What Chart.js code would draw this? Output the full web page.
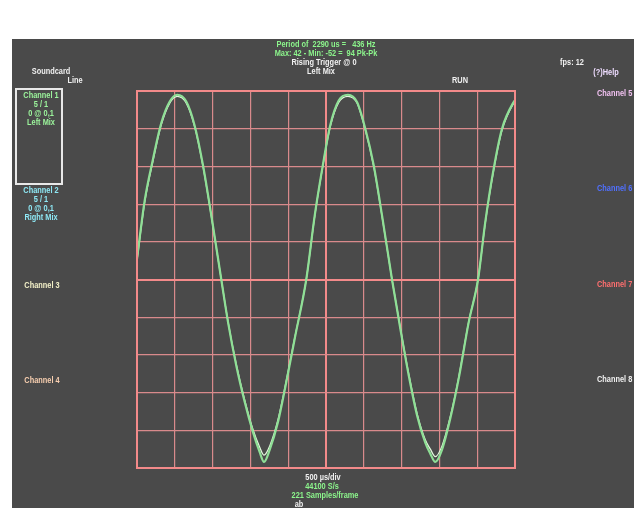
<!DOCTYPE html>
<html>
<head>
<meta charset="utf-8">
<script src="https://cdn.jsdelivr.net/npm/chart.js@4.4.1/dist/chart.umd.min.js"></script>
<style>
  body { margin: 0; background: #fff; width: 634px; height: 510px; overflow: hidden; position: relative; }
  #panel { position: absolute; left: 12px; top: 39px; width: 622px; height: 469px; background: #4a4a4a; }
  #wrap { position: absolute; left: 0; top: 0; width: 634px; height: 510px; }
  .t { position: absolute; font: bold 9px "Liberation Sans", Arial, sans-serif;
       white-space: pre; transform: translate(-50%, -50%) scaleX(0.82); line-height: 9px; }
  .l { transform-origin: 0 50%; transform: translate(0, -50%) scaleX(0.82); }
  #box { position: absolute; left: 15px; top: 88px; width: 44px; height: 93px; border: 2px solid #e8e8e8; }
</style>
</head>
<body>
<div id="panel"></div>
<div id="box"></div>
<div id="wrap"><canvas id="scope" width="634" height="510"></canvas></div>

<!-- header -->
<div class="t" style="left:326px;top:44px;color:#8cf58c">Period of  2290 us =   436 Hz</div>
<div class="t" style="left:326px;top:53px;color:#8cf58c">Max: 42 - Min: -52 =  94 Pk-Pk</div>
<div class="t" style="left:324px;top:62px;color:#f0f0f0">Rising Trigger @ 0</div>
<div class="t" style="left:321px;top:71px;color:#f0f0f0">Left Mix</div>
<div class="t" style="left:460px;top:80px;color:#f0f0f0">RUN</div>
<div class="t" style="left:572px;top:62px;color:#f0f0f0">fps: 12</div>
<div class="t" style="left:606px;top:72px;color:#eedcff">(?)Help</div>
<div class="t" style="left:51px;top:71px;color:#f0f0f0">Soundcard</div>
<div class="t" style="left:75px;top:80px;color:#f0f0f0">Line</div>

<!-- left channels -->
<div class="t" style="left:41px;top:95px;color:#9cf59c">Channel 1</div>
<div class="t" style="left:41px;top:104px;color:#9cf59c">5 / 1</div>
<div class="t" style="left:41px;top:113px;color:#9cf59c">0 @ 0,1</div>
<div class="t" style="left:41px;top:122px;color:#9cf59c">Left Mix</div>
<div class="t" style="left:41px;top:190px;color:#8ee8f5">Channel 2</div>
<div class="t" style="left:41px;top:199px;color:#8ee8f5">5 / 1</div>
<div class="t" style="left:41px;top:208px;color:#8ee8f5">0 @ 0,1</div>
<div class="t" style="left:41px;top:217px;color:#8ee8f5">Right Mix</div>
<div class="t" style="left:42px;top:285px;color:#f3f0c8">Channel 3</div>
<div class="t" style="left:42px;top:380px;color:#f8cfb0">Channel 4</div>

<!-- right channels -->
<div class="t l" style="left:597px;top:93px;color:#f0c0f0">Channel 5</div>
<div class="t l" style="left:597px;top:188px;color:#5070ff">Channel 6</div>
<div class="t l" style="left:597px;top:284px;color:#ff6f6f">Channel 7</div>
<div class="t l" style="left:597px;top:379px;color:#f0f0f0">Channel 8</div>

<!-- footer -->
<div class="t" style="left:323px;top:477px;color:#f0f0f0">500 µs/div</div>
<div class="t" style="left:322px;top:486px;color:#8cf58c">44100 S/s</div>
<div class="t" style="left:325px;top:495px;color:#8cf58c">221 Samples/frame</div>
<div class="t" style="left:299px;top:504px;color:#f0f0f0">ab</div>

<script>
// time in microseconds (500 us per division, 10 divisions)
const timeUs = [0, 102, 212, 321, 433, 533, 652, 763, 873, 983, 1115, 1204, 1313, 1425, 1534, 1623, 1680, 1755,
  1865, 1975, 2086, 2239, 2351, 2447, 2557, 2668, 2791, 2910, 3020, 3131, 3241, 3373, 3483, 3594, 3704, 3813,
  3880, 3946, 4034, 4144, 4255, 4388, 4511, 4607, 4718, 4828, 4983, 5000];

// trace values in divisions (5 / 1)
const leftMix = [0.55, 2.1, 3.2, 4.15, 4.72, 4.9, 4.72, 4.08, 3.03, 1.7, 0.0, -1.13, -2.28, -3.25, -4.05, -4.58, -4.84, -4.52,
  -3.78, -2.72, -1.57, 0.0, 1.7, 2.9, 4.1, 4.75, 4.9, 4.71, 4.0, 3.03, 1.7, 0.0, -1.3, -2.54, -3.6, -4.33,
  -4.62, -4.84, -4.52, -3.69, -2.63, -1.13, 0.0, 1.53, 2.94, 4.0, 4.71, 4.75];
const rightMix = [0.5, 2.05, 3.15, 4.1, 4.68, 4.86, 4.68, 4.05, 3.0, 1.68, 0.0, -1.12, -2.25, -3.2, -3.98, -4.45, -4.66, -4.42,
  -3.72, -2.68, -1.55, 0.0, 1.68, 2.88, 4.06, 4.7, 4.86, 4.68, 3.97, 3.0, 1.68, 0.0, -1.28, -2.5, -3.55, -4.25,
  -4.5, -4.7, -4.42, -3.64, -2.6, -1.12, 0.0, 1.5, 2.9, 3.96, 4.68, 4.72];

const gridLine = '#d98a8c';
const gridMain = '#f38a8a';

const points = (vals) => timeUs.map((t, i) => ({ x: t, y: vals[i] }));

new Chart(document.getElementById('scope'), {
  type: 'line',
  data: {
    datasets: [
      { label: 'Left Mix', data: points(leftMix), borderColor: '#8fdf96', borderWidth: 2.2, pointRadius: 0, cubicInterpolationMode: 'monotone' },
      { label: 'Right Mix', data: points(rightMix), borderColor: '#e2f7dc', borderWidth: 1.3, pointRadius: 0, cubicInterpolationMode: 'monotone' }
    ]
  },
  options: {
    responsive: false,
    animation: false,
    layout: { padding: { left: 137, top: 91, right: 119, bottom: 42 } },
    plugins: { legend: { display: false }, tooltip: { enabled: false } },
    scales: {
      x: {
        type: 'linear', min: 0, max: 5000,
        ticks: { display: false, stepSize: 500 },
        grid: {
          drawTicks: false,
          color: (c) => c.tick && (c.tick.value === 2500) ? gridMain : gridLine,
          lineWidth: (c) => c.tick && (c.tick.value === 2500) ? 2 : 1.2
        },
        border: { display: true, color: gridMain, width: 2 }
      },
      y: {
        min: -5, max: 5,
        ticks: { display: false, stepSize: 1 },
        grid: {
          drawTicks: false,
          color: (c) => c.tick && (c.tick.value === 0) ? gridMain : gridLine,
          lineWidth: (c) => c.tick && (c.tick.value === 0) ? 2 : 1.2
        },
        border: { display: true, color: gridMain, width: 2 }
      }
    }
  },
  plugins: [{
    id: 'frame',
    afterDraw(chart) {
      const a = chart.chartArea, ctx = chart.ctx;
      ctx.save();
      ctx.strokeStyle = gridMain;
      ctx.lineWidth = 2;
      ctx.strokeRect(a.left, a.top, a.right - a.left, a.bottom - a.top);
      ctx.restore();
    }
  }]
});
</script>
</body>
</html>
